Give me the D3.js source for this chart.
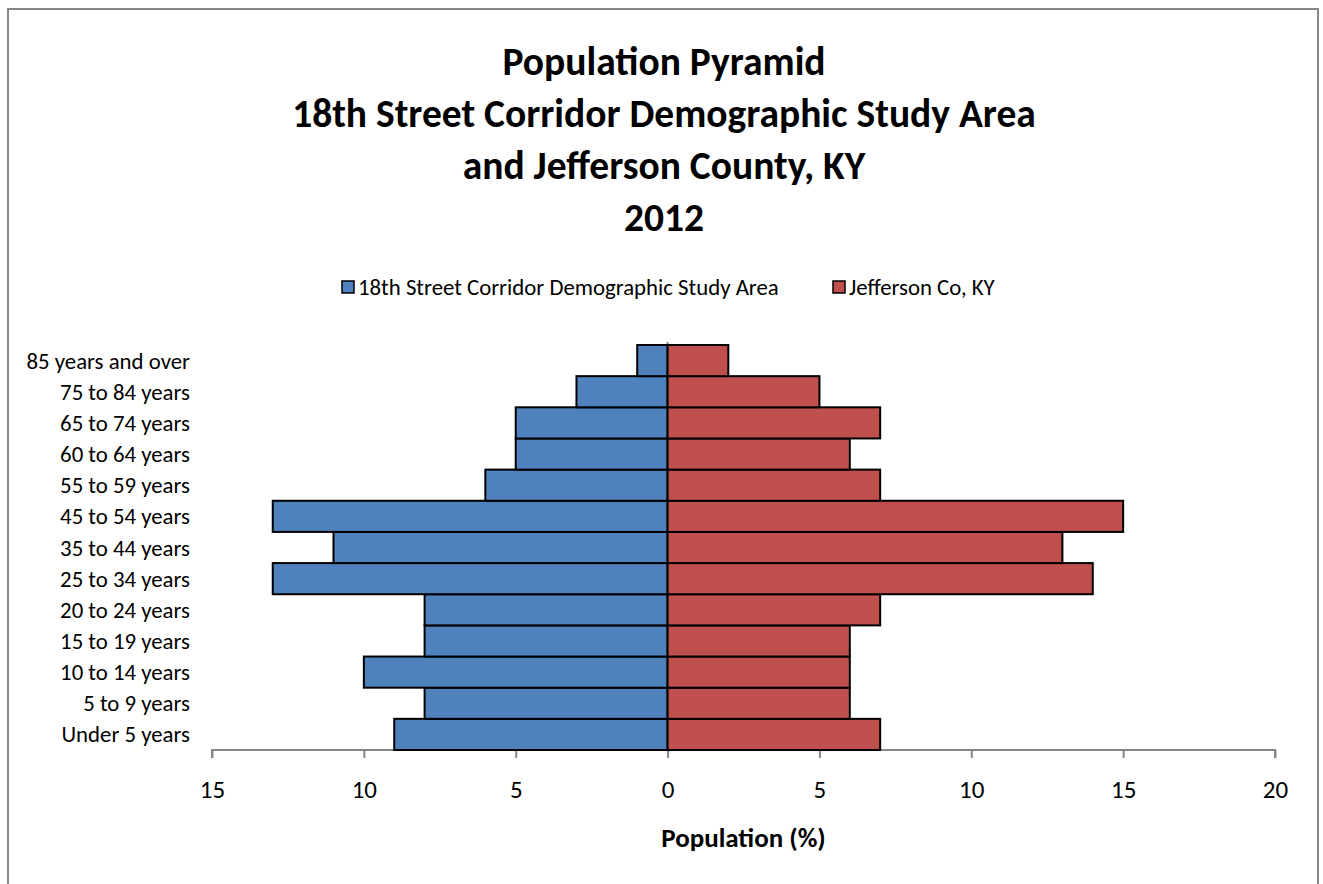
<!DOCTYPE html>
<html>
<head>
<meta charset="utf-8">
<script src="https://d3js.org/d3.v7.min.js"></script>
<style>
body { margin: 0; background: #fff; font-family: Calibri, Carlito, Lato, sans-serif; }
svg text { fill: #000; }
.axis path, .axis line { stroke: #868686; stroke-width: 2; }
.axis text { font-size: 25px; }
</style>
</head>
<body>
<div id="chart"></div>
<script>

var ageGroups = ["Under 5 years", "5 to 9 years", "10 to 14 years", "15 to 19 years", "20 to 24 years",
  "25 to 34 years", "35 to 44 years", "45 to 54 years", "55 to 59 years", "60 to 64 years",
  "65 to 74 years", "75 to 84 years", "85 years and over"];
var studyArea = [9, 8, 10, 8, 8, 13, 11, 13, 6, 5, 5, 3, 1];
var jefferson = [7, 6, 6, 6, 7, 14, 13, 15, 7, 6, 7, 5, 2];
var seriesNames = ["18th Street Corridor Demographic Study Area", "Jefferson Co, KY"];
var seriesColors = ["#4F81BD", "#C0504D"];
var xTicks = [-15, -10, -5, 0, 5, 10, 15, 20];
var titleLines = ["Population Pyramid", "18th Street Corridor Demographic Study Area",
  "and Jefferson County, KY", "2012"];

var width = 1323, height = 884;
var plot = { left: 212, right: 1275, top: 345, bottom: 750 };

var svg = d3.select("#chart").append("svg").attr("width", width).attr("height", height);

// outer frame (no bottom edge visible)
svg.append("path")
  .attr("d", "M8,884 V9 H1318 V884")
  .attr("fill", "none").attr("stroke", "#868686").attr("stroke-width", 2);

var x = d3.scaleLinear().domain([-15, 20]).range([plot.left, plot.right]);
var y = d3.scaleBand().domain(ageGroups.slice().reverse()).range([plot.top, plot.bottom]).padding(0);

// title
svg.append("g").selectAll("text").data(titleLines).enter().append("text")
  .attr("x", 664).attr("y", function (d, i) { return 75 + i * 52; })
  .attr("text-anchor", "middle").style("font-size", "39.5px").style("font-weight", "bold")
  .text(function (d) { return d; });

// legend
var legendX = [342, 833];
var legend = svg.append("g").selectAll("g").data(seriesNames).enter().append("g")
  .attr("transform", function (d, i) { return "translate(" + legendX[i] + ",287)"; });
legend.append("rect").attr("x", 0).attr("y", -6).attr("width", 12).attr("height", 12)
  .attr("fill", function (d, i) { return seriesColors[i]; }).attr("stroke", "#000").attr("stroke-width", 1.5);
legend.append("text").attr("x", 16).attr("y", 8).style("font-size", "22.8px").text(function (d) { return d; });

// x axis
var xAxis = d3.axisBottom(x).tickValues(xTicks).tickSize(8).tickPadding(22)
  .tickFormat(function (d) { return Math.abs(d); });
var gx = svg.append("g").attr("class", "axis").attr("transform", "translate(0," + plot.bottom + ")").call(xAxis)
  .attr("font-family", null);
gx.select(".domain").attr("d", "M" + plot.left + ",8V0H" + plot.right + "V8");

// zero line
svg.append("line").attr("x1", x(0)).attr("x2", x(0)).attr("y1", plot.top - 3).attr("y2", plot.bottom)
  .attr("stroke", "#868686").attr("stroke-width", 2);

// bars
var rows = ageGroups.map(function (g, i) { return { group: g, left: studyArea[i], right: jefferson[i] }; });

svg.append("g").selectAll("rect").data(rows).enter().append("rect")
  .attr("x", function (d) { return x(-d.left); })
  .attr("y", function (d) { return y(d.group); })
  .attr("width", function (d) { return x(0) - x(-d.left); })
  .attr("height", y.bandwidth())
  .attr("fill", seriesColors[0]).attr("stroke", "#000").attr("stroke-width", 2);

svg.append("g").selectAll("rect").data(rows).enter().append("rect")
  .attr("x", x(0))
  .attr("y", function (d) { return y(d.group); })
  .attr("width", function (d) { return x(d.right) - x(0); })
  .attr("height", y.bandwidth())
  .attr("fill", seriesColors[1]).attr("stroke", "#000").attr("stroke-width", 2);

// category labels
svg.append("g").selectAll("text").data(ageGroups).enter().append("text")
  .attr("x", 190).attr("y", function (d) { return y(d) + y.bandwidth() / 2 + 8; })
  .attr("text-anchor", "end").style("font-size", "22.8px")
  .text(function (d) { return d; });

// axis title
svg.append("text").attr("x", (plot.left + plot.right) / 2).attr("y", 847)
  .attr("text-anchor", "middle").style("font-size", "27px").style("font-weight", "bold")
  .text("Population (%)");

</script>
</body>
</html>
